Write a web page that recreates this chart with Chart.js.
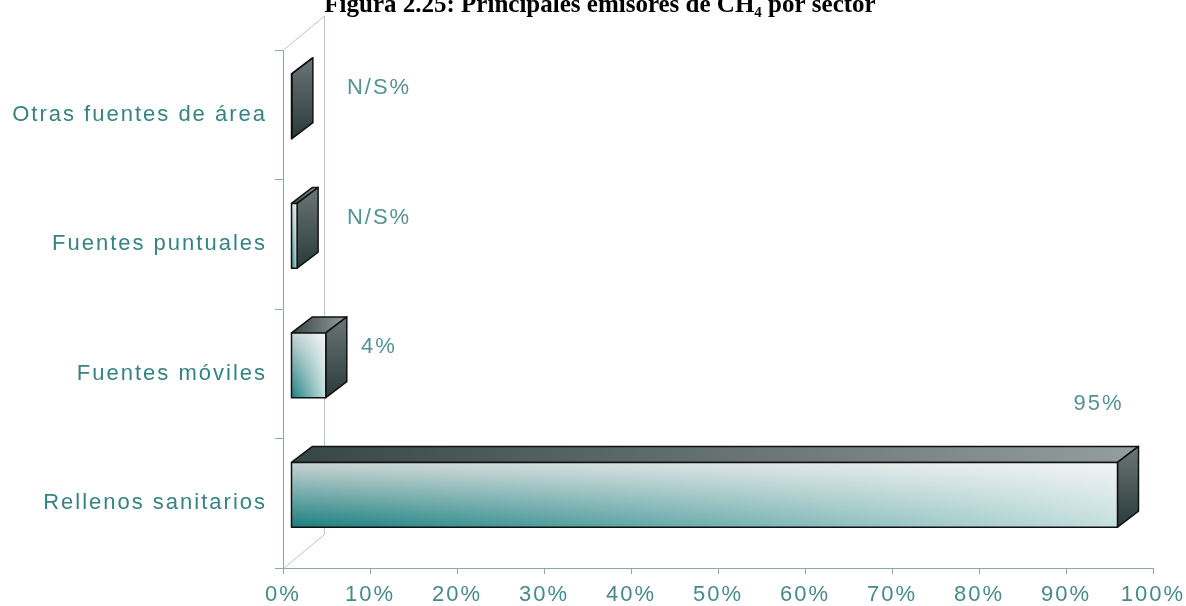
<!DOCTYPE html>
<html lang="es">
<head>
<meta charset="utf-8">
<title>Principales emisores de CH4 por sector</title>
<script src="https://cdn.jsdelivr.net/npm/chart.js@4.4.1/dist/chart.umd.min.js"></script>
<style>
  html, body { margin: 0; padding: 0; background: #fff; }
  #wrap { width: 1186px; height: 606px; }
</style>
</head>
<body>
<div id="wrap"><canvas id="emisores" width="1186" height="606"></canvas></div>
<script>
var titulo = 'Figura 2.25: Principales emisores de CH\u2084 por sector';
var sectores = ['Otras fuentes de área', 'Fuentes puntuales', 'Fuentes móviles', 'Rellenos sanitarios'];
var porcentajes = [0.1, 0.7, 4, 95];
var etiquetas = ['N/S%', 'N/S%', '4%', '95%'];
var ticksX = [0, 10, 20, 30, 40, 50, 60, 70, 80, 90, 100];

var ejeColor = '#8ea8a5';
var paredColor = '#b5c6c4';
var sectorColor = '#358383';
var tickColor = '#478a8a';
var valorColor = '#559292';
var fuente = '"Liberation Sans", Arial, sans-serif';

// the front face sits a little inside the box; FONDO is each bar's depth
var FRENTE = { dx: 8, dy: -8.5 };
var FONDO = { dx: 21, dy: -16 };
var PARED = { dx: 41, dy: -34 };

function cara(ctx, pts, fill) {
  ctx.beginPath();
  ctx.moveTo(pts[0][0], pts[0][1]);
  for (var k = 1; k < pts.length; k++) ctx.lineTo(pts[k][0], pts[k][1]);
  ctx.closePath();
  ctx.fillStyle = fill;
  ctx.fill();
  ctx.stroke();
}

var caja3d = {
  id: 'caja3d',
  beforeDraw: function(chart) {
    chart.ctx.letterSpacing = '2px';
  },
  beforeDatasetsDraw: function(chart) {
    // side wall of the box behind the bars
    var a = chart.chartArea, ctx = chart.ctx;
    var x0 = Math.round(a.left) + 0.5, y0 = Math.round(a.top), y1 = Math.round(a.bottom) + 0.5;
    ctx.save();
    ctx.strokeStyle = paredColor;
    ctx.lineWidth = 1;
    ctx.beginPath();
    ctx.moveTo(x0, y0);
    ctx.lineTo(x0 + PARED.dx, y0 + PARED.dy);
    ctx.lineTo(x0 + PARED.dx, y1 + PARED.dy);
    ctx.lineTo(x0, y1);
    ctx.stroke();
    ctx.restore();
  },
  afterDatasetsDraw: function(chart) {
    var ctx = chart.ctx;
    var xs = chart.scales.x;
    ctx.save();
    ctx.strokeStyle = '#111';
    ctx.lineWidth = 1.5;
    ctx.lineJoin = 'round';
    chart.getDatasetMeta(0).data.forEach(function(bar, i) {
      var p = bar.getProps(['x', 'y', 'base', 'height'], true);
      var l = p.base + FRENTE.dx, r = p.x + FRENTE.dx;
      var t = p.y - p.height / 2 + FRENTE.dy, b = p.y + p.height / 2 + FRENTE.dy;
      var dx = FONDO.dx, dy = FONDO.dy;

      var gTop = ctx.createLinearGradient(l, 0, r + dx, 0);
      gTop.addColorStop(0, '#364545');
      gTop.addColorStop(1, '#949e9e');
      cara(ctx, [[l, t], [l + dx, t + dy], [r + dx, t + dy], [r, t]], gTop);

      var gSide = ctx.createLinearGradient(0, t + dy, 0, b);
      gSide.addColorStop(0, '#6b7575');
      gSide.addColorStop(1, '#2a3b3b');
      cara(ctx, [[r, t], [r + dx, t + dy], [r + dx, b + dy], [r, b]], gSide);

      var gFront = ctx.createLinearGradient(0, t, 0, b);
      gFront.addColorStop(0, '#c9d4d3');
      gFront.addColorStop(1, '#1a7f7f');
      ctx.fillStyle = gFront;
      ctx.fillRect(l, t, r - l, b - t);
      var gLuz = ctx.createLinearGradient(l, 0, r, 0);
      gLuz.addColorStop(0, 'rgba(255,255,255,0)');
      gLuz.addColorStop(1, 'rgba(255,255,255,0.75)');
      ctx.fillStyle = gLuz;
      ctx.fillRect(l, t, r - l, b - t);
      ctx.strokeRect(l, t, r - l, b - t);

      // value labels: short bars get theirs to the right, the long one above its end
      ctx.fillStyle = valorColor;
      ctx.font = '22px ' + fuente;
      ctx.textAlign = 'center';
      ctx.textBaseline = 'middle';
      var lx, ly;
      if (porcentajes[i] > 50) {
        lx = r + dx - 40;
        ly = t - 58;
      } else {
        lx = xs.getPixelForValue(0) + 96;
        ly = (t + b) / 2 - 18;
      }
      ctx.fillText(etiquetas[i], lx, ly);
    });
    ctx.restore();
  },
  afterDraw: function(chart) {
    var ctx = chart.ctx;
    ctx.save();
    ctx.letterSpacing = '0px';
    ctx.fillStyle = '#000';
    ctx.font = 'bold 25px "Liberation Serif", "Times New Roman", serif';
    ctx.textAlign = 'center';
    ctx.textBaseline = 'alphabetic';
    ctx.fillText(titulo, 600, 12);
    ctx.restore();
  }
};

new Chart(document.getElementById('emisores'), {
  type: 'bar',
  data: {
    labels: sectores,
    datasets: [{
      data: porcentajes,
      backgroundColor: 'rgba(0,0,0,0)',
      borderWidth: 0,
      barPercentage: 0.5,
      categoryPercentage: 1
    }]
  },
  options: {
    indexAxis: 'y',
    responsive: false,
    animation: false,
    events: [],
    layout: { padding: { top: 50, right: 33, left: 0, bottom: 0 } },
    plugins: {
      legend: { display: false },
      title: { display: false },
      tooltip: { enabled: false }
    },
    scales: {
      x: {
        min: 0,
        max: 100,
        afterBuildTicks: function(s) { s.ticks = ticksX.map(function(v) { return { value: v }; }); },
        afterFit: function(s) {
          s.height = 38;
          s.paddingLeft = 0;
          s.paddingRight = 0;
        },
        grid: { drawOnChartArea: false, tickLength: 6, color: ejeColor },
        border: { color: ejeColor },
        ticks: {
          color: tickColor,
          padding: 8,
          maxRotation: 0,
          font: { size: 22, family: fuente },
          callback: function(v) { return v + '%'; }
        }
      },
      y: {
        afterFit: function(s) { s.width = 283; },
        grid: { drawOnChartArea: false, tickLength: 8, color: ejeColor },
        border: { color: ejeColor },
        ticks: {
          color: sectorColor,
          padding: 8,
          font: { size: 22, family: fuente }
        }
      }
    }
  },
  plugins: [caja3d]
});
</script>
</body>
</html>
